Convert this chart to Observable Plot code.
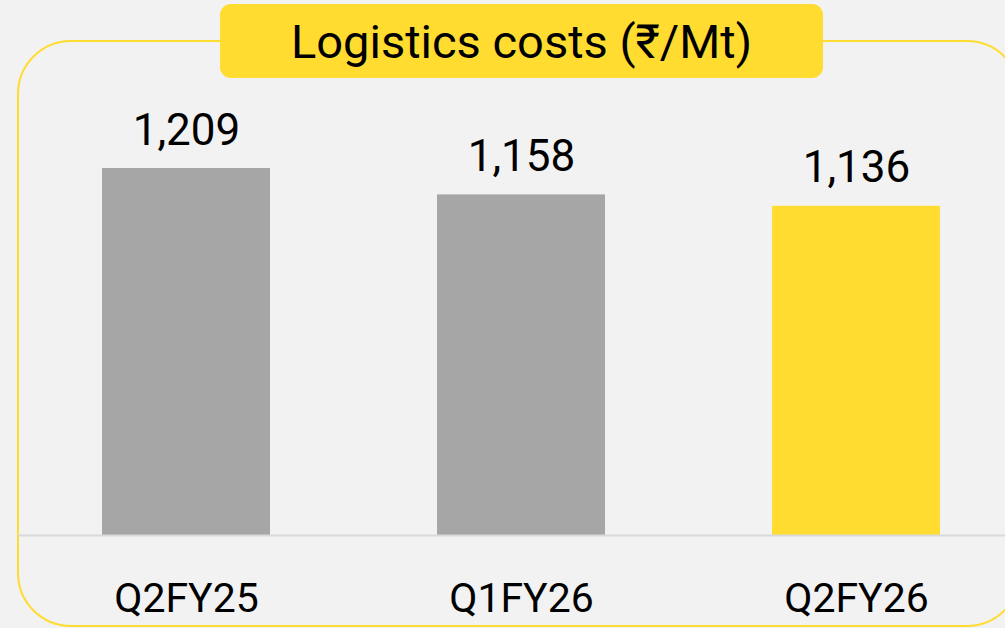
<!DOCTYPE html>
<html>
<head>
<meta charset="utf-8">
<script src="https://cdn.jsdelivr.net/npm/d3@7"></script>
<script src="https://cdn.jsdelivr.net/npm/@observablehq/plot@0.6"></script>
<style>
  html, body { margin: 0; padding: 0; background: #f2f2f2; }
  #wrap { position: relative; width: 1005px; height: 628px; overflow: hidden; background: #f2f2f2;
          font-family: Roboto, "Noto Sans", "DejaVu Sans", sans-serif; }
  #border { position: absolute; left: 17px; top: 40px; width: 1000px; height: 583px;
            border: 2px solid #ffdc2f; border-radius: 54px; box-sizing: content-box; }
  #title { position: absolute; left: 220px; top: 4px; width: 603px; height: 74px;
           background: #ffdc2f; border-radius: 11px; display: flex; align-items: center;
           justify-content: center; font-size: 47px; color: #000; line-height: 1; }
  #chart { position: absolute; left: 0; top: 0; }
</style>
</head>
<body>
<div id="wrap">
  <div id="border"></div>
  <div id="chart"></div>
  <div id="title">Logistics costs (₹/Mt)</div>
</div>
<script>
const categories = ["Q2FY25", "Q1FY26", "Q2FY26"];
const values = [1209, 1158, 1136];
const highlightCategory = "Q2FY26";
const yAxisMin = 500;

const data = categories.map((c, i) => ({category: c, value: values[i]}));
const fmt = d3.format(",");
const grey = "#a6a6a6";
const yellow = "#ffdc2f";

const chart = Plot.plot({
  width: 1005,
  height: 628,
  marginLeft: 18,
  marginRight: 0,
  marginTop: 0,
  marginBottom: 93,
  style: {background: "transparent", fontFamily: "Roboto, 'Noto Sans', sans-serif", color: "#000"},
  x: {domain: categories, range: [18.25, 1023.25], paddingInner: 0.5, paddingOuter: 0.25, label: null},
  y: {domain: [yAxisMin, d3.max(values)], range: [535, 168], axis: null},
  marks: [
    Plot.barY(data, {x: "category", y1: yAxisMin, y2: "value",
      fill: d => d.category === highlightCategory ? yellow : grey}),
    Plot.ruleY([yAxisMin], {stroke: "#d9d9d9", strokeWidth: 2}),
    Plot.text(data, {x: "category", y: "value", text: d => fmt(d.value),
      lineAnchor: "bottom", dy: -24, fontSize: 44, fill: "#000"}),
    Plot.axisX({tickSize: 0, tickPadding: 47, fontSize: 41, label: null})
  ]
});
document.getElementById("chart").appendChild(chart);
</script>
</body>
</html>
